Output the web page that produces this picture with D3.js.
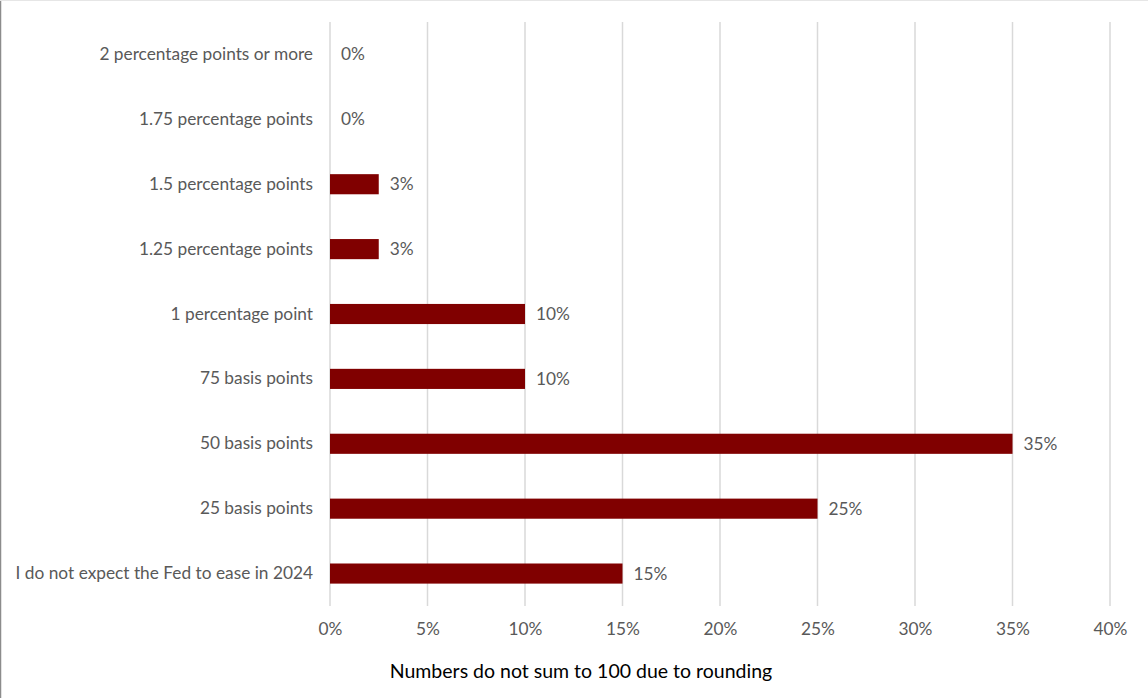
<!DOCTYPE html>
<html>
<head>
<meta charset="utf-8">
<script src="https://cdn.jsdelivr.net/npm/d3@7"></script>
<style>
  html, body { margin: 0; padding: 0; background: #fff; }
  svg { display: block; }
  text { font-family: Lato, "Open Sans", sans-serif; }
</style>
</head>
<body>
<svg id="chart" width="1148" height="698"></svg>
<script>
// Expected total Fed easing in 2024 (share of respondents, %)
const categories = [
  "2 percentage points or more",
  "1.75 percentage points",
  "1.5 percentage points",
  "1.25 percentage points",
  "1 percentage point",
  "75 basis points",
  "50 basis points",
  "25 basis points",
  "I do not expect the Fed to ease in 2024"
];
const shares = [0, 0, 2.5, 2.5, 10, 10, 35, 25, 15];
const tickValues = [0, 5, 10, 15, 20, 25, 30, 35, 40];
const axisTitle = "Numbers do not sum to 100 due to rounding";

const svg = d3.select("#chart");
const W = 1148, H = 698;
const margin = { top: 22, right: 38, bottom: 92, left: 330 };
const plotW = W - margin.left - margin.right;
const plotH = H - margin.top - margin.bottom;
const labelSize = "17.3px";

// Frame edges
svg.append("line").attr("x1", 0.5).attr("x2", 0.5).attr("y1", 0).attr("y2", H)
  .attr("stroke", "#8c8c8c").attr("stroke-width", 1.5);
svg.append("line").attr("x1", 0).attr("x2", W).attr("y1", 0.5).attr("y2", 0.5)
  .attr("stroke", "#e6e6e6").attr("stroke-width", 1);

const g = svg.append("g").attr("transform", `translate(${margin.left},${margin.top})`);

const x = d3.scaleLinear().domain([0, 40]).range([0, plotW]);
const y = d3.scaleBand().domain(categories).range([0, plotH]).paddingInner(0.69).paddingOuter(0.345);

// Vertical gridlines
g.append("g").selectAll("line").data(tickValues).join("line")
  .attr("x1", d => x(d)).attr("x2", d => x(d))
  .attr("y1", 0).attr("y2", plotH)
  .attr("stroke", "#d9d9d9").attr("stroke-width", 1.5);

// X axis tick labels
const xAxis = d3.axisBottom(x).tickValues(tickValues).tickSize(0).tickPadding(17)
  .tickFormat(d => d + "%");
g.append("g").attr("transform", `translate(0,${plotH})`).call(xAxis)
  .call(a => a.select(".domain").remove())
  .selectAll("text").attr("fill", "#595959").style("font-size", labelSize)
  .style("font-family", "Lato, 'Open Sans', sans-serif");

// Y axis category labels
const yAxis = d3.axisLeft(y).tickSize(0).tickPadding(17);
g.append("g").call(yAxis)
  .call(a => a.select(".domain").remove())
  .selectAll("text").attr("fill", "#595959").style("font-size", labelSize)
  .style("font-family", "Lato, 'Open Sans', sans-serif");

// Bars
const rows = categories.map((c, i) => ({ cat: c, v: shares[i] }));
g.append("g").selectAll("rect").data(rows).join("rect")
  .attr("x", x(0))
  .attr("y", d => y(d.cat))
  .attr("width", d => x(d.v) - x(0))
  .attr("height", y.bandwidth())
  .attr("fill", "#800000");

// Value labels (rounded to whole percent)
g.append("g").selectAll("text").data(rows).join("text")
  .attr("x", d => x(d.v) + 11)
  .attr("y", d => y(d.cat) + y.bandwidth() / 2)
  .attr("dy", "0.35em")
  .attr("fill", "#595959")
  .style("font-size", labelSize)
  .text(d => Math.round(d.v) + "%");

// Axis title
svg.append("text")
  .attr("x", 581)
  .attr("y", 678)
  .attr("text-anchor", "middle")
  .attr("fill", "#000")
  .style("font-size", "19.5px")
  .text(axisTitle);
</script>
</body>
</html>
